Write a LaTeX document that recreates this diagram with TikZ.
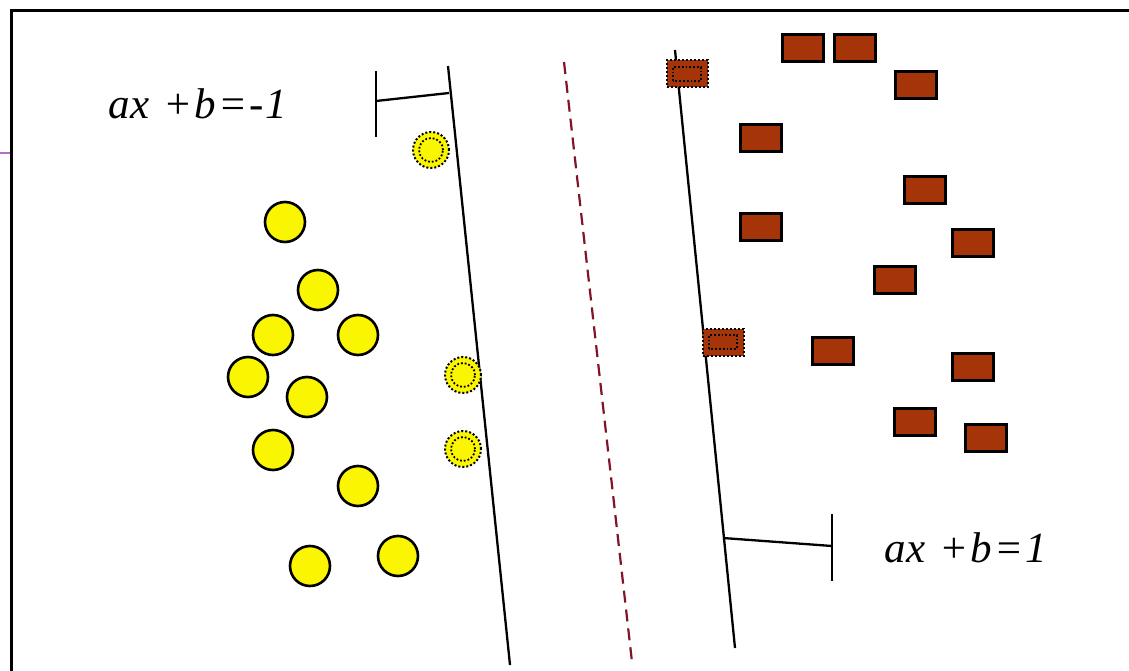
\documentclass[tikz,border=0pt]{standalone}
\usepackage{fontspec}
\setmainfont{Liberation Serif}
\begin{document}
\begin{tikzpicture}[x=1pt,y=-1pt,
  pt/.style={circle,draw=black,line width=2.6pt,fill=yellowpt,minimum size=40pt,inner sep=0pt},
  svpt/.style={circle,draw=black,dotted,line width=2pt,fill=yellowpt,minimum size=36pt,inner sep=0pt},
  sq/.style={rectangle,draw=black,line width=2.6pt,fill=brownsq,minimum width=41pt,minimum height=27pt,inner sep=0pt},
  svsq/.style={rectangle,draw=black,dotted,line width=2pt,fill=brownsq,minimum width=41pt,minimum height=27pt,inner sep=0pt},
  mline/.style={line width=2.3pt,black},
  lbl/.style={font=\fontsize{43}{45}\selectfont\itshape,inner sep=0pt,anchor=base west}]
\definecolor{yellowpt}{RGB}{250,245,0}
\definecolor{brownsq}{RGB}{165,52,8}
\definecolor{dashred}{RGB}{130,20,40}
\definecolor{purp}{RGB}{180,110,200}
\useasboundingbox (0,0) rectangle (1129,671);
\fill[white] (0,0) rectangle (1129,671);
% frame
\coordinate (fTL) at (11,11);
\coordinate (fTR) at (1129,11);
\coordinate (fBL) at (11,671);
\draw[line width=3pt] (fTR) -- (fTL) -- (fBL);
\coordinate (pA) at (0,153);
\coordinate (pB) at (10,153);
\draw[purp,line width=1.5pt] (pA) -- (pB);
% margin lines and separator
\coordinate (l1) at (448,66);
\coordinate (l2) at (510,665);
\coordinate (r1) at (675,50);
\coordinate (r2) at (735,648);
\coordinate (m1) at (564,62);
\coordinate (m2) at (632,662);
\draw[mline] (l1) -- (l2);
\draw[mline] (r1) -- (r2);
\draw[dashred,line width=2.2pt,dash pattern=on 12pt off 7pt] (m1) -- (m2);
% brackets
\coordinate (bl1) at (376,71);
\coordinate (bl2) at (376,137);
\coordinate (bl3) at (376,101);
\coordinate (bl4) at (449,93);
\draw[mline] (bl1) -- (bl2);
\draw[mline] (bl3) -- (bl4);
\coordinate (br1) at (832,514);
\coordinate (br2) at (832,581);
\coordinate (br3) at (723,538);
\coordinate (br4) at (832,546);
\draw[mline] (br1) -- (br2);
\draw[mline] (br3) -- (br4);
% labels
\node[lbl] (labA) at (108,119) {a\kern1pt x\kern3pt\ +\kern2pt b\kern2pt =\kern2pt -\kern2pt 1};
\node[lbl] (labB) at (884,562) {a\kern1pt x\kern3pt\ +\kern2pt b\kern2pt =\kern2pt 1};
% circles
\node[pt] (c1) at (285,222) {};
\node[pt] (c2) at (318,290) {};
\node[pt] (c3) at (273,335) {};
\node[pt] (c4) at (358,335) {};
\node[pt] (c5) at (248,377) {};
\node[pt] (c6) at (307,397) {};
\node[pt] (c7) at (273,450) {};
\node[pt] (c8) at (358,486) {};
\node[pt] (c9) at (310,566) {};
\node[pt] (c10) at (398,556) {};
\node[svpt] (s1) at (431,150) {};
\node[svpt] (s2) at (463,375) {};
\node[svpt] (s3) at (463,449) {};
\foreach \n in {s1,s2,s3}{\draw[dotted,line width=1.8pt] (\n.center) circle[radius=12pt];}
% squares
\node[sq] (q1) at (803,48) {};
\node[sq] (q2) at (855,48) {};
\node[sq] (q3) at (916,85) {};
\node[sq] (q4) at (761,138) {};
\node[sq] (q5) at (925,190) {};
\node[sq] (q6) at (761,227) {};
\node[sq] (q7) at (973,243) {};
\node[sq] (q8) at (895,280) {};
\node[sq] (q9) at (833,351) {};
\node[sq] (q10) at (973,367) {};
\node[sq] (q11) at (915,422) {};
\node[sq] (q12) at (986,438) {};
\node[svsq] (t1) at (687,74) {};
\node[svsq] (t2) at (723,342) {};
\foreach \n in {t1,t2}{\draw[dotted,line width=1.8pt] ([shift={(-14pt,-7pt)}]\n.center) rectangle ([shift={(14pt,7pt)}]\n.center);}
\end{tikzpicture}
\end{document}
